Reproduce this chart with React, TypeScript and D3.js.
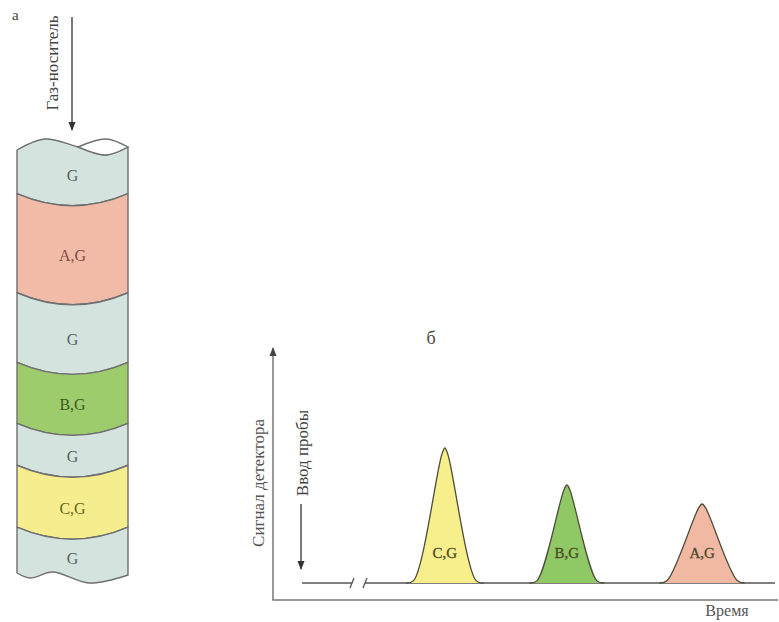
import React from "react";
import * as d3 from "d3";

// ---- Data ----
const columnLabels = ["G", "A,G", "G", "B,G", "G", "C,G", "G"];
// boundaries along column (0 = top of column, 100 = bottom)
const columnBounds = [0, 10.7, 33.9, 50.2, 64.5, 74.3, 88.8, 100];
const peakLabels = ["C,G", "B,G", "A,G"];
const peakTimes = [30.2, 56.0, 84.6];
const peakHeights = [67.5, 49, 39.5];
const peakHalfWidths = [6.6, 6.3, 7.4];

const fillFor: Record<string, string> = {
  G: "#d4e3de",
  "A,G": "#f2bba8",
  "B,G": "#9ccc6c",
  "C,G": "#f6ee8e",
};
const textFor: Record<string, string> = {
  G: "#56625e",
  "A,G": "#7d4c40",
  "B,G": "#3e5a22",
  "C,G": "#6a6422",
};
const peakFill: Record<string, string> = {
  "C,G": "#f6ef8c",
  "B,G": "#8fc864",
  "A,G": "#f1b9a4",
};

const W = 779;
const H = 622;
const FONT = "'Liberation Serif', 'DejaVu Serif', serif";

export default function App() {
  // column geometry
  const colL = 17;
  const colR = 128;
  const colW = colR - colL;
  const cy = d3.scaleLinear().domain([0, 100]).range([148, 575]);
  const sag = 12;
  const fx = (f: number) => colL + f * colW;

  const topFront: [number, number][] = [
    [fx(0), cy(0) + 2],
    [fx(0.25), cy(0) - 9],
    [fx(0.55), cy(0) - 1],
    [fx(0.8), cy(0) + 7],
    [fx(1), cy(0) - 1],
  ];
  const topBack: [number, number][] = [
    [fx(0.55), cy(0) - 1],
    [fx(0.8), cy(0) - 9],
    [fx(1), cy(0) - 1],
  ];
  const bottomWave: [number, number][] = [
    [fx(0), cy(100) - 2],
    [fx(0.12), cy(100) + 3],
    [fx(0.32), cy(100) - 3],
    [fx(0.65), cy(100) + 8],
    [fx(1), cy(100)],
  ];
  const curveLine = d3
    .line<[number, number]>()
    .x((d) => d[0])
    .y((d) => d[1])
    .curve(d3.curveCatmullRom.alpha(0.5));

  const arcSeg = (y: number) => `Q${(colL + colR) / 2},${y + 2 * sag} ${colR},${y}`;
  const arcSegRev = (y: number) => `Q${(colL + colR) / 2},${y + 2 * sag} ${colL},${y}`;

  const segPaths = columnLabels.map((lab, i) => {
    const y0 = cy(columnBounds[i]);
    const y1 = cy(columnBounds[i + 1]);
    let d = "";
    if (i === 0) {
      d = curveLine(topFront) as string;
    } else {
      d = `M${colL},${y0} ${arcSeg(y0)}`;
    }
    if (i === columnLabels.length - 1) {
      const rev = [...bottomWave].reverse();
      d += ` L${rev[0][0]},${rev[0][1]}`;
      d += (curveLine(rev) as string).replace(/^M[^A-Za-z]*/, "");
      d += " Z";
    } else {
      d += ` L${colR},${y1} ${arcSegRev(y1)} Z`;
    }
    const topMid = i === 0 ? y0 - 2 : y0 + sag;
    const botMid = i === columnLabels.length - 1 ? y1 + 3 : y1 + sag;
    return { lab, d, ly: (topMid + botMid) / 2 };
  });

  const lensPath =
    (curveLine(topBack) as string) +
    " L" +
    (curveLine([...topFront.slice(2)].reverse()) as string).slice(1) +
    " Z";

  // chart scales
  const x = d3.scaleLinear().domain([0, 100]).range([302, 775]);
  const y = d3.scaleLinear().domain([0, 100]).range([583, 383]);
  const axisX0 = 273;
  const axisY0 = 600;

  const peakLine = d3
    .line<[number, number]>()
    .x((d) => x(d[0]))
    .y((d) => y(d[1]))
    .curve(d3.curveCatmullRom.alpha(0.5));

  const peaks = peakLabels.map((lab, i) => {
    const c = peakTimes[i];
    const h = peakHeights[i];
    const w = peakHalfWidths[i];
    const pts: [number, number][] = [
      [c - w - 1.6, 0],
      [c - w, 1.2],
      [c - 0.1 * w, h * 0.95],
      [c, h],
      [c + 0.1 * w, h * 0.95],
      [c + w, 1.2],
      [c + w + 1.6, 0],
    ];
    return { lab, d: peakLine(pts) as string, cx: x(c) };
  });

  const breakA = 352;
  const breakB = 365;

  return (
    <svg
      width={W}
      height={H}
      style={{ position: "absolute", left: 0, top: 0, background: "#fff" }}
      fontFamily={FONT}
    >
      <defs>
        <marker id="ah" viewBox="0 0 10 10" refX="9" refY="5" markerWidth="7" markerHeight="9" orient="auto">
          <path d="M0,1 L10,5 L0,9 Z" fill="#333" />
        </marker>
        <marker id="ah2" viewBox="0 0 10 10" refX="9" refY="5" markerWidth="6" markerHeight="7" orient="auto">
          <path d="M0,1 L10,5 L0,9 Z" fill="#444" />
        </marker>
      </defs>

      {/* panel a */}
      <text x={12} y={20} fontSize={15} fill="#444">а</text>
      <text
        transform={`translate(58,${63}) rotate(-90)`}
        textAnchor="middle"
        fontSize={17}
        fill="#444"
      >
        Газ-носитель
      </text>
      <line x1={72} y1={17} x2={72} y2={130} stroke="#333" strokeWidth={1.3} markerEnd="url(#ah)" />

      {/* column */}
      {segPaths.map((s, i) => (
        <path key={"seg" + i} d={s.d} fill={fillFor[s.lab]} stroke="#6f6f6f" strokeWidth={1.4} strokeLinejoin="round" />
      ))}
      <path d={lensPath} fill="#ffffff" stroke="#6f6f6f" strokeWidth={1.4} />
      {segPaths.map((s, i) => (
        <text
          key={"sl" + i}
          x={(colL + colR) / 2}
          y={s.ly}
          dy="0.35em"
          textAnchor="middle"
          fontSize={16}
          fill={textFor[s.lab]}
        >
          {s.lab}
        </text>
      ))}

      {/* panel b */}
      <text x={431} y={344} textAnchor="middle" fontSize={18} fill="#444">б</text>

      {/* axes */}
      <line x1={axisX0} y1={axisY0} x2={axisX0} y2={348} stroke="#777" strokeWidth={1.5} markerEnd="url(#ah2)" />
      <line x1={axisX0 - 0.75} y1={axisY0} x2={778} y2={axisY0} stroke="#777" strokeWidth={1.5} />
      <text
        transform={`translate(264,483) rotate(-90)`}
        textAnchor="middle"
        fontSize={17}
        fill="#555"
      >
        Сигнал детектора
      </text>
      <text x={727} y={616} textAnchor="middle" fontSize={16} fill="#555">Время</text>

      {/* sample injection */}
      <text
        transform={`translate(308,453) rotate(-90)`}
        textAnchor="middle"
        fontSize={17}
        fill="#444"
      >
        Ввод пробы
      </text>
      <line x1={301} y1={504} x2={301} y2={569} stroke="#333" strokeWidth={1.3} markerEnd="url(#ah)" />

      {/* baseline with break */}
      <line x1={x(0)} y1={y(0)} x2={breakA} y2={y(0)} stroke="#555" strokeWidth={1.4} />
      <line x1={breakB} y1={y(0)} x2={x(100)} y2={y(0)} stroke="#555" strokeWidth={1.4} />
      <line x1={breakA - 2} y1={y(0) + 5} x2={breakA + 2} y2={y(0) - 5} stroke="#555" strokeWidth={1.3} />
      <line x1={breakB - 2} y1={y(0) + 5} x2={breakB + 2} y2={y(0) - 5} stroke="#555" strokeWidth={1.3} />

      {/* peaks */}
      {peaks.map((p, i) => (
        <g key={"pk" + i}>
          <path d={p.d} fill={peakFill[p.lab]} stroke="#4d4d3a" strokeWidth={1.3} strokeLinejoin="round" />
          <text x={p.cx} y={553} dy="0.35em" textAnchor="middle" fontSize={15} fill="#4a4a26" stroke="#4a4a26" strokeWidth={0.3}>
            {p.lab}
          </text>
        </g>
      ))}
    </svg>
  );
}
